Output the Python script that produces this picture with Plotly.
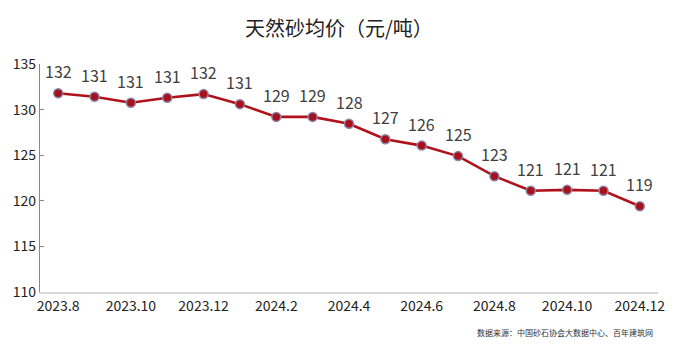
import plotly.graph_objects as go

months = ["2023.8", "2023.9", "2023.10", "2023.11", "2023.12", "2024.1", "2024.2", "2024.3",
          "2024.4", "2024.5", "2024.6", "2024.7", "2024.8", "2024.9", "2024.10", "2024.11", "2024.12"]
prices = [131.8, 131.4, 130.75, 131.3, 131.7, 130.6, 129.2, 129.2,
          128.45, 126.75, 126.05, 124.9, 122.7, 121.1, 121.2, 121.1, 119.4]
tick_months = ["2023.8", "2023.10", "2023.12", "2024.2", "2024.4", "2024.6", "2024.8", "2024.10", "2024.12"]
y_ticks = [110, 115, 120, 125, 130, 135]

title = "天然砂均价（元/吨）"
source = "数据来源：中国砂石协会大数据中心、百年建筑网"

font_family = "Noto Sans CJK SC, Open Sans, sans-serif"

fig = go.Figure()
fig.add_trace(go.Scatter(
    x=months, y=prices, mode="lines+markers",
    line=dict(color="#B0121B", width=2.6),
    marker=dict(size=9, color="#A8101C", line=dict(color="#8A86A8", width=1.5)),
    hoverinfo="x+y", showlegend=False,
))

for i, p in enumerate(prices):
    fig.add_annotation(x=i, y=p, text=str(round(p)), showarrow=False, yshift=22,
                       font=dict(size=16, color="#404040", family=font_family))

fig.add_annotation(xref="paper", yref="paper", x=0.5, y=1.0, yshift=37, xshift=-10, text=title,
                   showarrow=False, xanchor="center", yanchor="middle",
                   font=dict(size=20, color="#222222", family=font_family))
fig.add_annotation(xref="paper", yref="paper", x=1.0, y=0, yshift=-40, xshift=-3, text=source,
                   showarrow=False, xanchor="right", yanchor="middle",
                   font=dict(size=8, color="#333333", family=font_family))

fig.update_layout(
    width=685, height=357,
    margin=dict(l=40, r=27, t=64, b=65, autoexpand=False),
    paper_bgcolor="white", plot_bgcolor="white",
    font=dict(family=font_family, color="#222222"),
)
fig.update_xaxes(
    type="category", categoryorder="array", categoryarray=months,
    range=[-0.5, len(months) - 0.5],
    tickvals=tick_months, ticktext=tick_months,
    showline=True, linecolor="#D9D9D9", linewidth=1.5,
    showgrid=False, ticks="", tickfont=dict(size=14, color="#222222"),
    zeroline=False, automargin=False,
)
fig.update_yaxes(
    range=[110, 135], tickvals=y_ticks,
    showline=True, linecolor="#888888", linewidth=1.2,
    ticks="inside", ticklen=4, tickcolor="#888888",
    showgrid=False, zeroline=False, automargin=False,
    tickfont=dict(size=14, color="#222222"),
)

fig.write_html("out.html", config={"displayModeBar": False},
               post_script="document.body.style.margin='0';")
